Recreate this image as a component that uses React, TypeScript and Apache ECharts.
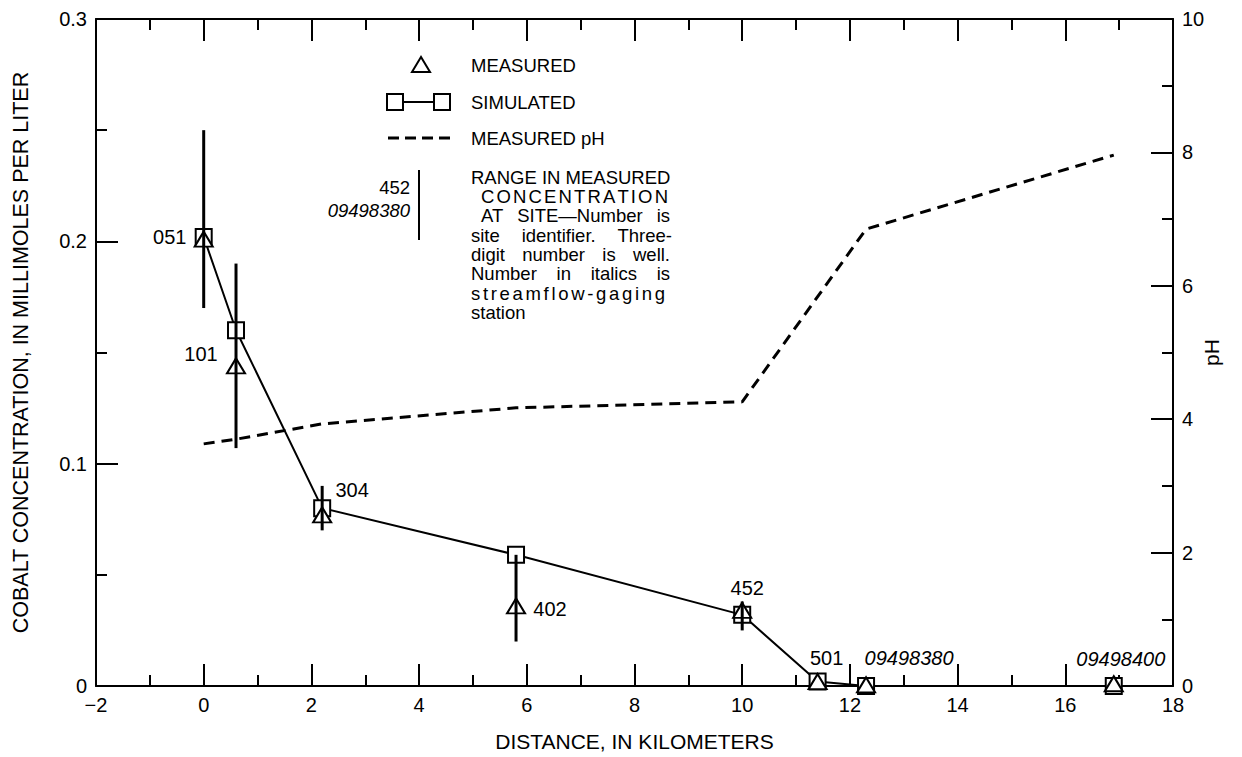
import React, { useEffect, useRef } from 'react';
import * as echarts from 'echarts';

const FONT = '"Liberation Sans", Arial, Helvetica, sans-serif';
const INK = '#000';

// Sampling sites along the flow path
const siteNames = ['051', '101', '304', '402', '452', '501', '09498380', '09498400'];
const italicSites = ['09498380', '09498400'];
const distanceKm = [0, 0.6, 2.2, 5.8, 10.0, 11.4, 12.3, 16.9];

// Cobalt, millimoles per liter
const simulatedCo = [0.202, 0.16, 0.08, 0.059, 0.032, 0.002, 0.0, 0.0];
const measuredCo = [0.201, 0.144, 0.077, 0.036, 0.034, 0.002, 0.0005, 0.001];

// Range in measured concentration at a site
const rangeDistance = [0, 0.6, 2.2, 5.8, 10.0];
const rangeLow = [0.17, 0.107, 0.07, 0.02, 0.025];
const rangeHigh = [0.25, 0.19, 0.09, 0.059, 0.038];

// Measured pH
const phDistance = [0, 0.6, 2.2, 5.8, 10.0, 12.3, 16.9];
const phValues = [3.63, 3.7, 3.93, 4.17, 4.26, 6.85, 7.96];

// Axis ranges
const xMin = -2, xMax = 18, xStep = 2;
const coMin = 0, coMax = 0.3, coStep = 0.1;
const phMin = 0, phMax = 10, phStep = 2;

// Where each site label sits relative to its measured point (pixels)
const LABEL_OFFSETS: [number, number][] = [
  [-34, -2], [-35, -12], [30, -25], [34, 3], [5, -22], [9, -24], [43, -27], [7, -25],
];

const NOTE_LINES = [
  { text: 'RANGE IN MEASURED', x0: 471, x1: 0, y: 177 },
  { text: 'CONCENTRATION', x0: 481, x1: 668, y: 196 },
  { text: 'AT SITE\u2014Number is', x0: 481, x1: 670, y: 215 },
  { text: 'site identifier.  Three-', x0: 471, x1: 672, y: 235 },
  { text: 'digit number is well.', x0: 471, x1: 670, y: 254 },
  { text: 'Number in italics is', x0: 471, x1: 670, y: 273 },
  { text: 'streamflow-gaging', x0: 471, x1: 665, y: 293 },
  { text: 'station', x0: 471, x1: 0, y: 312 },
];

function measureText(text: string, font: string): number {
  const ctx = document.createElement('canvas').getContext('2d');
  if (!ctx) return text.length * 9;
  ctx.font = font;
  return ctx.measureText(text).width;
}

// Lay out one justified line of the note as separate text pieces
function justifiedLine(text: string, x0: number, x1: number, y: number, size: number): any[] {
  const font = `${size}px ${FONT}`;
  const style = { fill: INK, font, textVerticalAlign: 'middle' } as any;
  if (!x1) {
    return [{ type: 'text', x: x0, y, style: { ...style, text, textAlign: 'left' } }];
  }
  const words = text.split(/\s+/);
  const pieces = words.length > 1 ? words : text.split('');
  const widths = pieces.map((p) => measureText(p, font));
  const total = widths.reduce((a, b) => a + b, 0);
  const gap = Math.max(0, (x1 - x0 - total) / (pieces.length - 1));
  const out: any[] = [];
  let x = x0;
  pieces.forEach((p, i) => {
    out.push({ type: 'text', x, y, style: { ...style, text: p, textAlign: 'left' } });
    x += widths[i] + gap;
  });
  return out;
}

function axisCommon() {
  return {
    axisLine: { show: true, onZero: false, lineStyle: { color: INK, width: 2 } },
    axisTick: { show: true, inside: true, length: 22, lineStyle: { color: INK, width: 2 } },
    minorTick: { show: true, splitNumber: 2, length: 11, lineStyle: { color: INK, width: 2 } },
    splitLine: { show: false },
    minorSplitLine: { show: false },
  };
}

const tickLabel = { color: INK, fontFamily: FONT, fontSize: 20, margin: 9 };
const axisName = { color: INK, fontFamily: FONT, fontSize: 21 };

export default function App() {
  const ref = useRef<HTMLDivElement>(null);

  useEffect(() => {
    document.body.style.margin = '0';
    if (!ref.current) return;
    const chart = echarts.init(ref.current, undefined, { renderer: 'svg' });

    const legendFont = `18.5px ${FONT}`;
    const legend: any[] = [
      // measured
      { type: 'polygon', shape: { points: [[421, 57], [412, 72], [430, 72]] }, style: { fill: '#fff', stroke: INK, lineWidth: 2 } },
      { type: 'text', x: 471, y: 65, style: { text: 'MEASURED', fill: INK, font: legendFont, textVerticalAlign: 'middle' } },
      // simulated
      { type: 'line', shape: { x1: 403, y1: 102, x2: 434, y2: 102 }, style: { stroke: INK, lineWidth: 2 } },
      { type: 'rect', shape: { x: 387, y: 94, width: 16, height: 16 }, style: { fill: '#fff', stroke: INK, lineWidth: 2 } },
      { type: 'rect', shape: { x: 434, y: 94, width: 16, height: 16 }, style: { fill: '#fff', stroke: INK, lineWidth: 2 } },
      { type: 'text', x: 471, y: 102, style: { text: 'SIMULATED', fill: INK, font: legendFont, textVerticalAlign: 'middle' } },
      // measured pH
      { type: 'line', shape: { x1: 388, y1: 138, x2: 452, y2: 138 }, style: { stroke: INK, lineWidth: 3, lineDash: [11, 6] } },
      { type: 'text', x: 471, y: 138, style: { text: 'MEASURED pH', fill: INK, font: legendFont, textVerticalAlign: 'middle' } },
      // range bar
      { type: 'line', shape: { x1: 419, y1: 170, x2: 419, y2: 240 }, style: { stroke: INK, lineWidth: 2 } },
      { type: 'text', x: 410, y: 187, style: { text: '452', fill: INK, font: legendFont, textAlign: 'right', textVerticalAlign: 'middle' } },
      { type: 'text', x: 410, y: 210, style: { text: '09498380', fill: INK, font: `italic ${legendFont}`, textAlign: 'right', textVerticalAlign: 'middle' } },
    ];
    NOTE_LINES.forEach((l) => legend.push(...justifiedLine(l.text, l.x0, l.x1, l.y, 18.5)));

    const option: any = {
      animation: false,
      backgroundColor: '#fff',
      grid: { left: 96, right: 69, top: 19, bottom: 67, containLabel: false },
      xAxis: [
        {
          type: 'value', min: xMin, max: xMax, interval: xStep, position: 'bottom',
          ...axisCommon(),
          axisLabel: { ...tickLabel, formatter: (v: number) => (v < 0 ? '\u2212' + Math.abs(v) : String(v)) },
          name: 'DISTANCE, IN KILOMETERS', nameLocation: 'middle', nameGap: 45, nameTextStyle: axisName,
          nameMoveOverlap: false,
        },
        {
          type: 'value', min: xMin, max: xMax, interval: xStep, position: 'top',
          ...axisCommon(),
          axisLabel: { show: false },
        },
      ],
      yAxis: [
        {
          type: 'value', min: coMin, max: coMax, interval: coStep, position: 'left',
          ...axisCommon(),
          axisLabel: { ...tickLabel, formatter: (v: number) => String(Math.round(v * 10) / 10) },
          name: 'COBALT CONCENTRATION, IN MILLIMOLES PER LITER', nameLocation: 'middle', nameRotate: 90, nameGap: 64,
          nameTextStyle: { ...axisName, fontSize: 21.5 }, nameMoveOverlap: false,
        },
        {
          type: 'value', min: phMin, max: phMax, interval: phStep, position: 'right',
          ...axisCommon(),
          axisLabel: { ...tickLabel },
          name: 'pH', nameLocation: 'middle', nameRotate: 90, nameGap: 28, nameTextStyle: axisName,
          nameMoveOverlap: false,
        },
      ],
      graphic: legend,
      series: [
        {
          name: 'MEASURED pH', type: 'line', xAxisIndex: 0, yAxisIndex: 1, z: 1,
          data: phDistance.map((d, i) => [d, phValues[i]]),
          symbol: 'none', lineStyle: { color: INK, width: 3, type: [11, 7] },
          silent: true,
        },
        {
          name: 'SIMULATED', type: 'line', xAxisIndex: 0, yAxisIndex: 0, z: 2,
          data: distanceKm.map((d, i) => [d, simulatedCo[i]]),
          symbol: 'rect', symbolSize: 16, showAllSymbol: true,
          lineStyle: { color: INK, width: 2 },
          itemStyle: { color: '#fff', borderColor: INK, borderWidth: 2, opacity: 1 },
          silent: true,
        },
        {
          name: 'MEASURED', type: 'scatter', xAxisIndex: 0, yAxisIndex: 0, z: 3,
          data: distanceKm.map((d, i) => [d, measuredCo[i]]),
          symbol: 'triangle', symbolSize: [18, 15],
          itemStyle: { color: '#fff', borderColor: INK, borderWidth: 2, opacity: 1 },
          silent: true,
        },
        {
          name: 'RANGE', type: 'custom', xAxisIndex: 0, yAxisIndex: 0, z: 4,
          data: rangeDistance.map((d, i) => [d, rangeLow[i], rangeHigh[i]]),
          encode: { x: 0, y: [1, 2] },
          renderItem: (_p: any, api: any) => {
            const a = api.coord([api.value(0), api.value(1)]);
            const b = api.coord([api.value(0), api.value(2)]);
            return {
              type: 'line',
              shape: { x1: a[0], y1: a[1], x2: b[0], y2: b[1] },
              style: { stroke: INK, lineWidth: 3 },
            };
          },
          silent: true,
        },
        {
          name: 'SITES', type: 'scatter', xAxisIndex: 0, yAxisIndex: 0, z: 5,
          symbolSize: 1, itemStyle: { color: 'rgba(0,0,0,0)', opacity: 1 },
          data: distanceKm.map((d, i) => ({
            value: [d, measuredCo[i]],
            name: siteNames[i],
            label: {
              offset: LABEL_OFFSETS[i],
              fontStyle: italicSites.includes(siteNames[i]) ? 'italic' : 'normal',
            },
          })),
          label: {
            show: true, position: 'inside', formatter: (p: any) => p.name,
            color: INK, fontFamily: FONT, fontSize: 20, textBorderWidth: 0,
          },
          silent: true,
        },
      ],
    };

    chart.setOption(option);
    return () => chart.dispose();
  }, []);

  return <div ref={ref} style={{ width: 1242, height: 757 }} />;
}
